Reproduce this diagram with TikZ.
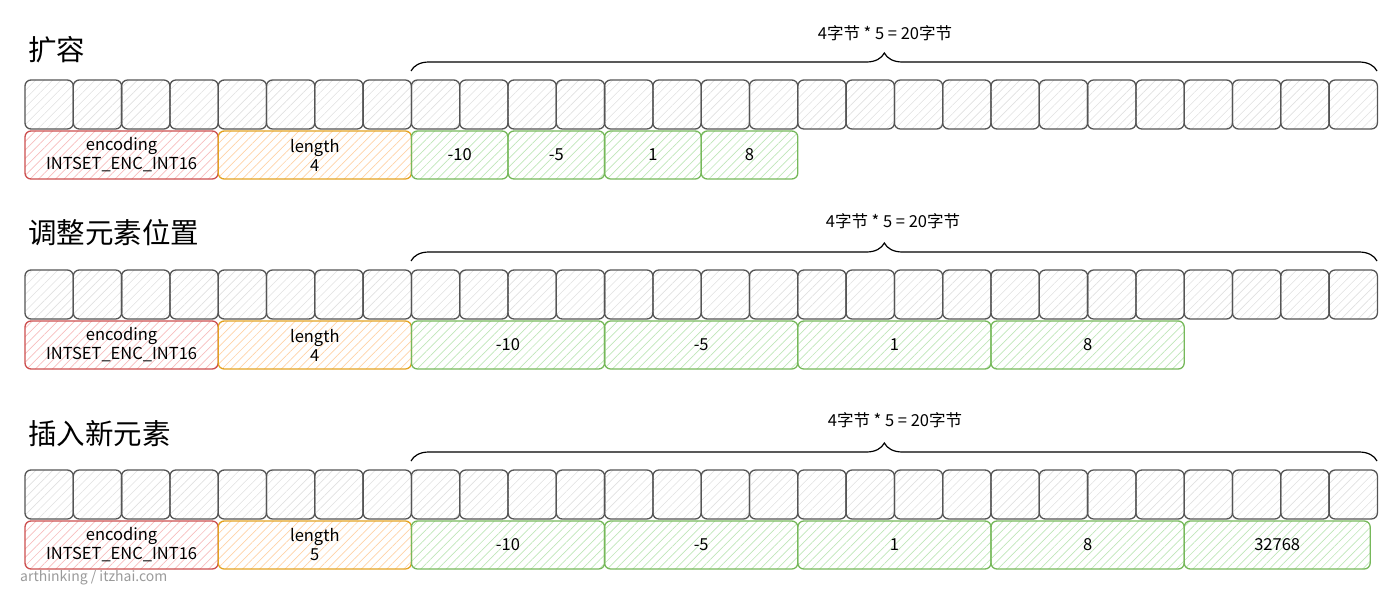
\documentclass[tikz,border=0pt]{standalone}
\usepackage{fontspec}
\setmainfont{Noto Sans CJK SC}
\usetikzlibrary{patterns.meta,decorations.pathreplacing}
\definecolor{cellstroke}{HTML}{555555}
\definecolor{cellhatch}{HTML}{E0E0E0}
\definecolor{redstroke}{HTML}{CC4E4E}
\definecolor{redhatch}{HTML}{F7BDBD}
\definecolor{orgstroke}{HTML}{E3A322}
\definecolor{orghatch}{HTML}{FFD2A6}
\definecolor{grnstroke}{HTML}{76B85A}
\definecolor{grnhatch}{HTML}{BFE6B8}
\definecolor{wmgray}{HTML}{9A9A9A}
\begin{document}
\begin{tikzpicture}[x=1pt,y=-1pt,
  base/.style={anchor=north west,inner sep=0pt,outer sep=0pt,rounded corners=6pt,line width=1.3pt,
    minimum height=48pt,align=center,font=\fontsize{16.5}{19}\selectfont},
  cell/.style={base,draw=cellstroke,minimum width=48.3pt,minimum height=49pt,
    pattern={Lines[angle=45,distance=6pt,line width=0.6pt]},pattern color=cellhatch},
  redbox/.style={base,draw=redstroke,minimum width=193.2pt,
    pattern={Lines[angle=45,distance=6pt,line width=0.7pt]},pattern color=redhatch},
  orgbox/.style={base,draw=orgstroke,minimum width=193.2pt,
    pattern={Lines[angle=45,distance=6pt,line width=0.7pt]},pattern color=orghatch},
  grnbox/.style={base,draw=grnstroke,
    pattern={Lines[angle=45,distance=6pt,line width=0.7pt]},pattern color=grnhatch},
  title/.style={anchor=west,inner sep=0pt,font=\fontsize{28.5}{32}\selectfont},
  lbl/.style={inner sep=0pt,font=\fontsize{16.5}{19}\selectfont},
  bracestyle/.style={line width=1.2pt,decorate,decoration={brace,amplitude=18pt,aspect=0.49}}
]
\useasboundingbox (0,0) rectangle (1400,591);

% titles
\node[title] (t1) at (28,50) {扩容};
\node[title] (t2) at (28,233) {调整元素位置};
\node[title] (t3) at (28,434) {插入新元素};

% cells
\foreach \r/\y in {1/80,2/270,3/470}{
  \foreach \i in {0,...,27}{
    \node[cell] (c\r-\i) at ({25+48.3*\i},\y) {};
  }
}

% braces and labels
\foreach \r/\y/\ly/\lx in {1/71/33/885,2/261/221/893,3/461/420/895}{
  \coordinate (b\r s) at (411,\y);
  \coordinate (b\r e) at (1377,\y);
  \draw[bracestyle] (b\r s) -- (b\r e);
  \node[lbl] (l\r) at (\lx,\ly) {4字节 * 5 = 20字节};
}

% row 1 boxes
\node[redbox] (enc1) at (25,131) {encoding\\INTSET\_ENC\_INT16};
\node[orgbox] (len1) at (218.2,131) {length\\4};
\node[grnbox,minimum width=96.6pt] (v1a) at (411.4,131) {-10};
\node[grnbox,minimum width=96.6pt] (v1b) at (508.0,131) {-5};
\node[grnbox,minimum width=96.6pt] (v1c) at (604.6,131) {1};
\node[grnbox,minimum width=96.6pt] (v1d) at (701.2,131) {8};

% row 2 boxes
\node[redbox] (enc2) at (25,321) {encoding\\INTSET\_ENC\_INT16};
\node[orgbox] (len2) at (218.2,321) {length\\4};
\node[grnbox,minimum width=193.2pt] (v2a) at (411.4,321) {-10};
\node[grnbox,minimum width=193.2pt] (v2b) at (604.6,321) {-5};
\node[grnbox,minimum width=193.2pt] (v2c) at (797.8,321) {1};
\node[grnbox,minimum width=193.2pt] (v2d) at (991.0,321) {8};

% row 3 boxes
\node[redbox] (enc3) at (25,521) {encoding\\INTSET\_ENC\_INT16};
\node[orgbox] (len3) at (218.2,521) {length\\5};
\node[grnbox,minimum width=193.2pt] (v3a) at (411.4,521) {-10};
\node[grnbox,minimum width=193.2pt] (v3b) at (604.6,521) {-5};
\node[grnbox,minimum width=193.2pt] (v3c) at (797.8,521) {1};
\node[grnbox,minimum width=193.2pt] (v3d) at (991.0,521) {8};
\node[grnbox,minimum width=186.0pt] (v3e) at (1184.2,521) {32768};

% watermark
\node[anchor=west,inner sep=0pt,text=wmgray,font=\fontsize{14}{16}\selectfont] (wm) at (20,578) {arthinking / itzhai.com};
\end{tikzpicture}
\end{document}
